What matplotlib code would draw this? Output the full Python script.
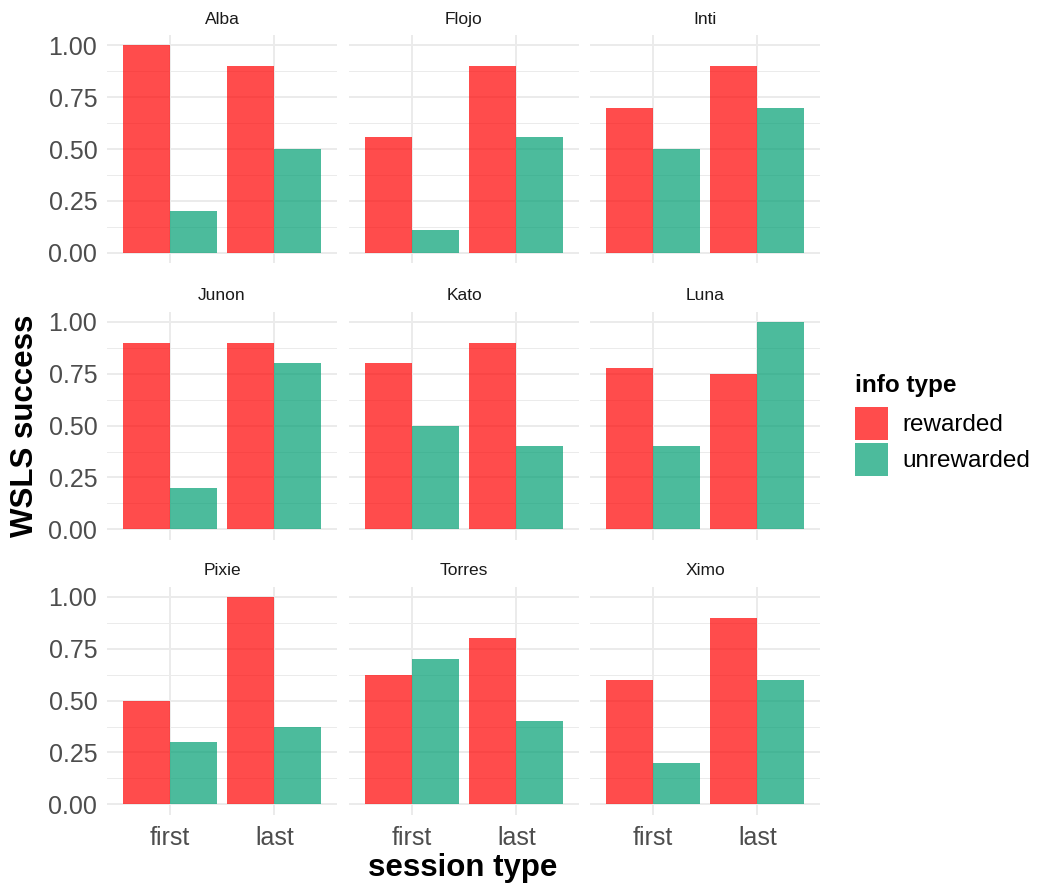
import matplotlib
matplotlib.use("Agg")
import matplotlib.pyplot as plt
from matplotlib.patches import Patch
import numpy as np

plt.rcParams['font.family'] = ['Liberation Sans', 'DejaVu Sans']

monkeys = ["Alba", "Flojo", "Inti", "Junon", "Kato", "Luna", "Pixie", "Torres", "Ximo"]
sessions = ["first", "last"]
info_types = ["rewarded", "unrewarded"]
rewarded = [[1.0, 0.9], [0.556, 0.9], [0.7, 0.9],
            [0.9, 0.9], [0.8, 0.9], [0.778, 0.75],
            [0.5, 1.0], [0.625, 0.8], [0.6, 0.9]]
unrewarded = [[0.2, 0.5], [0.111, 0.556], [0.5, 0.7],
              [0.2, 0.8], [0.5, 0.4], [0.4, 1.0],
              [0.3, 0.375], [0.7, 0.4], [0.2, 0.6]]
colors = ["#FF0000", "#009E73"]
ALPHA = 0.7
yticks = [0.0, 0.25, 0.5, 0.75, 1.0]
yticklabels = ["0.00", "0.25", "0.50", "0.75", "1.00"]

W, H = 1039, 885
fig = plt.figure(figsize=(W / 100, H / 100), dpi=100)

col_left = [107, 349, 590]
row_top = [35.1, 311.6, 586.6]
pw, ph = 230, 228
grid_c = "#EBEBEB"

for i, name in enumerate(monkeys):
    r, c = divmod(i, 3)
    ax = fig.add_axes([col_left[c] / W, 1 - (row_top[r] + ph) / H, pw / W, ph / H])
    x = np.arange(1, len(sessions) + 1)
    bw = 0.45
    ax.bar(x - bw / 2, rewarded[i], width=bw, color=colors[0], alpha=ALPHA, linewidth=0, zorder=3)
    ax.bar(x + bw / 2, unrewarded[i], width=bw, color=colors[1], alpha=ALPHA, linewidth=0, zorder=3)
    ax.set_xlim(0.4, 2.6)
    ax.set_ylim(-0.05, 1.05)
    ax.set_yticks(yticks)
    ax.set_yticks([0.125, 0.375, 0.625, 0.875], minor=True)
    ax.set_xticks(x)
    ax.grid(True, which='major', color=grid_c, linewidth=1.4, zorder=0)
    ax.grid(True, which='minor', axis='y', color=grid_c, linewidth=0.7, zorder=0)
    ax.set_axisbelow(True)
    for s in ax.spines.values():
        s.set_visible(False)
    ax.tick_params(which='both', length=0)
    if c == 0:
        ax.set_yticklabels(yticklabels, fontsize=18, color="#4D4D4D")
        ax.tick_params(axis='y', pad=7)
    else:
        ax.set_yticklabels([])
    if r == 2:
        ax.set_xticklabels(sessions, fontsize=18, color="#4D4D4D")
        ax.tick_params(axis='x', pad=8)
    else:
        ax.set_xticklabels([])
    ax.set_title(name, fontsize=12.5, color="#1A1A1A", pad=8)

fig.text(463 / W, 1 - 868 / H, "session type", fontsize=22.5, fontweight='bold',
         ha='center', va='center')
fig.text(25 / W, 1 - 426 / H, "WSLS success", fontsize=22.5, fontweight='bold',
         rotation=90, ha='center', va='center')

fig.text(855 / W, 1 - 392 / H, "info type", fontsize=17.5, fontweight='bold',
         ha='left', va='baseline')
handles = [Patch(facecolor=colors[k], alpha=ALPHA, edgecolor='none') for k in range(2)]
leg = fig.legend(handles, info_types, loc='upper left',
                 bbox_to_anchor=(855 / W, 1 - 407 / H), frameon=False,
                 fontsize=17.5, handlelength=1.36, handleheight=1.715,
                 labelspacing=0.12, handletextpad=0.6, borderaxespad=0,
                 borderpad=0)

fig.savefig("out.png", dpi=100, facecolor="white")
